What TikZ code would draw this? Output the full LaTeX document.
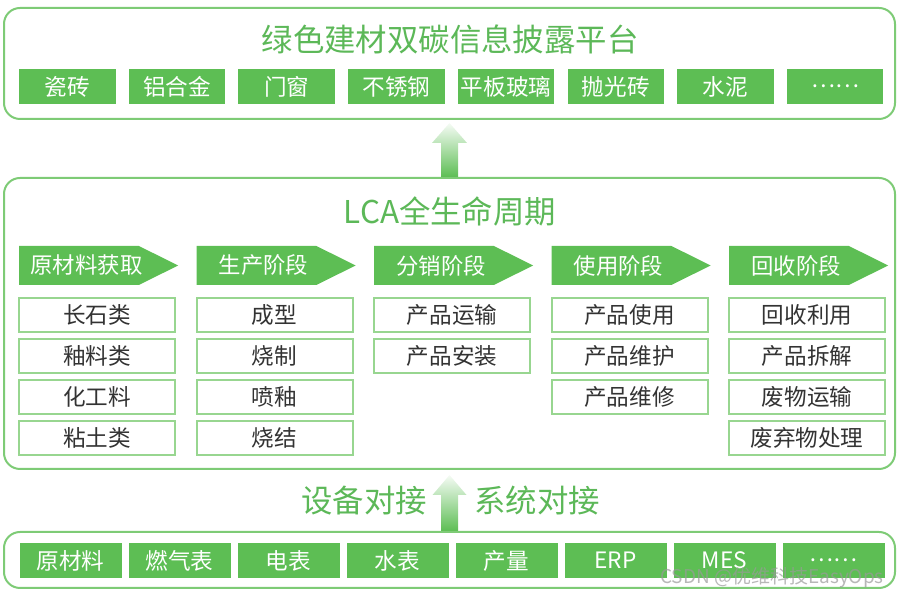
\documentclass[tikz,border=0pt]{standalone}
\usepackage{fontspec}
\setmainfont{Noto Sans CJK SC}
\usetikzlibrary{shapes.symbols,calc}
\definecolor{lcagreen}{RGB}{93,190,84}
\definecolor{lcatitle}{RGB}{92,184,88}
\definecolor{lcaframe}{RGB}{126,203,118}
\definecolor{lcaitem}{RGB}{152,214,144}
\definecolor{lcatext}{RGB}{51,51,51}

\begin{document}
\begin{tikzpicture}[x=0.5pt,y=-0.5pt,
  every node/.style={inner sep=0pt},
  lcapanel/.style={draw=lcaframe,line width=1pt,rounded corners=8pt,minimum width=445.5pt},
  lcahead/.style={text=lcatitle,font=\fontsize{15.7}{18}\selectfont},
  lcatag/.style={fill=lcagreen,text=white,minimum height=17.5pt,font=\fontsize{11.3}{13}\selectfont},
  lcastage/.style={signal,signal to=east,signal pointer angle=53,fill=lcagreen,
    minimum width=79.5pt,minimum height=19.5pt},
  lcastagetext/.style={text=white,font=\fontsize{11.2}{13}\selectfont},
  lcaitembox/.style={draw=lcaitem,line width=1pt,fill=white,text=lcatext,
    minimum width=78pt,minimum height=17pt,font=\fontsize{11.3}{13}\selectfont},
  lcaup/.style={top color=lcagreen!6,bottom color=lcagreen}]
\useasboundingbox (0,0) rectangle (900,597);
% top panel
\node[lcapanel,minimum height=55.5pt] (plat) at (449.5,63.5) {};
\node[lcahead] (plattitle) at (450,39) {绿色建材双碳信息披露平台};
\node[lcatag,minimum width=48.25pt] (tag1) at (67.3,86.5) {瓷砖};
\node[lcatag,minimum width=48.25pt] (tag2) at (177.0,86.5) {铝合金};
\node[lcatag,minimum width=48.25pt] (tag3) at (286.7,86.5) {门窗};
\node[lcatag,minimum width=48.25pt] (tag4) at (396.4,86.5) {不锈钢};
\node[lcatag,minimum width=48.25pt] (tag5) at (506.1,86.5) {平板玻璃};
\node[lcatag,minimum width=48.25pt] (tag6) at (615.8,86.5) {抛光砖};
\node[lcatag,minimum width=48.25pt] (tag7) at (725.5,86.5) {水泥};
\node[lcatag,minimum width=48.25pt] (tag8) at (835.2,86.5) {……};
% middle panel
\node[lcapanel,minimum height=145.5pt] (lca) at (449.5,323.5) {};
\node[lcahead] (lcatitle) at (450,211) {LCA全生命周期};
\node[lcastage] (st1) at (79,265.5) {};
\node[lcastage] (st2) at (256.5,265.5) {};
\node[lcastage] (st3) at (434,265.5) {};
\node[lcastage] (st4) at (611.5,265.5) {};
\node[lcastage] (st5) at (789,265.5) {};
\node[lcastagetext] (st1txt) at (86.5,265.5) {原材料获取};
\node[lcastagetext] (st2txt) at (263.5,265.5) {生产阶段};
\node[lcastagetext] (st3txt) at (441,265.5) {分销阶段};
\node[lcastagetext] (st4txt) at (618.5,265.5) {使用阶段};
\node[lcastagetext] (st5txt) at (796,265.5) {回收阶段};
\node[lcaitembox] (it11) at (97,315) {长石类};
\node[lcaitembox] (it12) at (97,356) {釉料类};
\node[lcaitembox] (it13) at (97,397) {化工料};
\node[lcaitembox] (it14) at (97,438) {粘土类};
\node[lcaitembox] (it21) at (274.5,315) {成型};
\node[lcaitembox] (it22) at (274.5,356) {烧制};
\node[lcaitembox] (it23) at (274.5,397) {喷釉};
\node[lcaitembox] (it24) at (274.5,438) {烧结};
\node[lcaitembox] (it31) at (452,315) {产品运输};
\node[lcaitembox] (it32) at (452,356) {产品安装};
\node[lcaitembox] (it41) at (629.5,315) {产品使用};
\node[lcaitembox] (it42) at (629.5,356) {产品维护};
\node[lcaitembox] (it43) at (629.5,397) {产品维修};
\node[lcaitembox] (it51) at (807,315) {回收利用};
\node[lcaitembox] (it52) at (807,356) {产品拆解};
\node[lcaitembox] (it53) at (807,397) {废物运输};
\node[lcaitembox] (it54) at (807,438) {废弃物处理};
% bottom panel
\node[lcapanel,minimum height=28pt] (src) at (449.5,560) {};
\node[lcatag,minimum width=51pt] (dev1) at (70.5,560.5) {原材料};
\node[lcatag,minimum width=51pt] (dev2) at (179.5,560.5) {燃气表};
\node[lcatag,minimum width=51pt] (dev3) at (288.5,560.5) {电表};
\node[lcatag,minimum width=51pt] (dev4) at (397.5,560.5) {水表};
\node[lcatag,minimum width=51pt] (dev5) at (506.5,560.5) {产量};
\node[lcatag,minimum width=51pt] (dev6) at (615.5,560.5) {ERP};
\node[lcatag,minimum width=51pt] (dev7) at (724.5,560.5) {MES};
\node[lcatag,minimum width=51pt] (dev8) at (833.5,560.5) {……};
\node[lcahead] (devlink) at (364,501) {设备对接};
\node[lcahead] (syslink) at (537,501) {系统对接};
% block arrows
\shade[lcaup] ($(lca.north)+(-8.5,0)$) -- ($(lca.north)+(-8.5,-34)$)
  -- ($(lca.north)+(-17.5,-34)$) -- ($(plat.south)+(0,3)$)
  -- ($(lca.north)+(17.5,-34)$) -- ($(lca.north)+(8.5,-34)$)
  -- ($(lca.north)+(8.5,0)$) -- cycle;
\shade[lcaup] ($(src.north)+(-8.5,0)$) -- ($(src.north)+(-8.5,-36)$)
  -- ($(src.north)+(-17,-36)$) -- ($(lca.south)+(0,5)$)
  -- ($(src.north)+(17,-36)$) -- ($(src.north)+(8.5,-36)$)
  -- ($(src.north)+(8.5,0)$) -- cycle;
\node[text=black!40,text opacity=0.7,font=\fontsize{9.5}{11}\selectfont] (mark) at (772,578) {CSDN @优维科技EasyOps};
\end{tikzpicture}
\end{document}
